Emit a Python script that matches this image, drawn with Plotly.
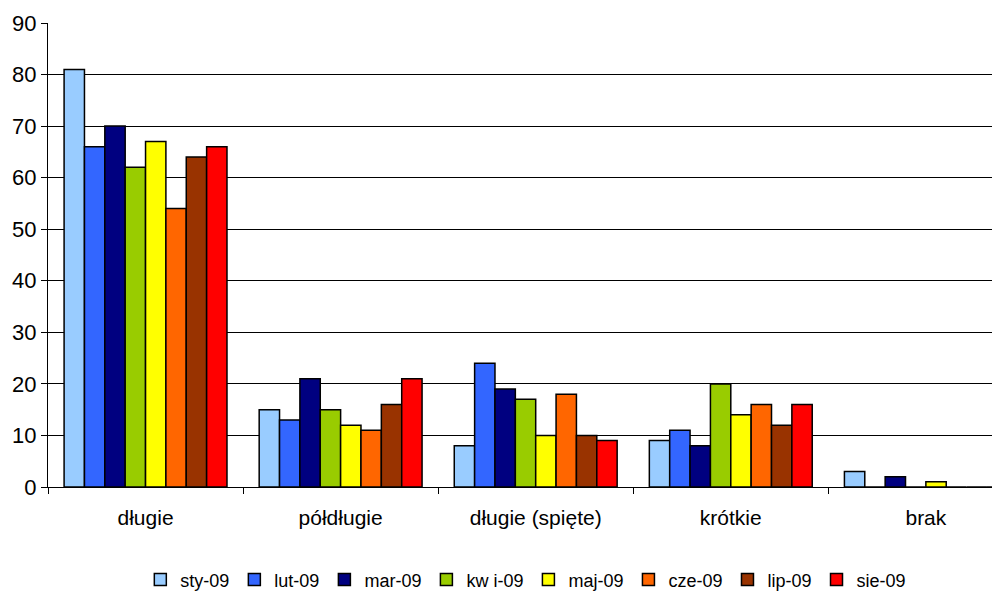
import plotly.graph_objects as go

categories = ["długie", "półdługie", "długie (spięte)", "krótkie", "brak"]
series_names = ["sty-09", "lut-09", "mar-09", "kw i-09", "maj-09", "cze-09", "lip-09", "sie-09"]
sty = [81, 15, 8, 9, 3]
lut = [66, 13, 24, 11, 0]
mar = [70, 21, 19, 8, 2]
kwi = [62, 15, 17, 20, 0]
maj = [67, 12, 10, 14, 1]
cze = [54, 11, 18, 16, 0]
lip = [64, 16, 10, 12, 0]
sie = [66, 21, 9, 16, 0]
series_values = [sty, lut, mar, kwi, maj, cze, lip, sie]
colors = ["#99CCFF", "#3366FF", "#000080", "#99CC00", "#FFFF00", "#FF6600", "#993300", "#FF0000"]
y_ticks = [0, 10, 20, 30, 40, 50, 60, 70, 80, 90]

FONT = "Arial, Liberation Sans, sans-serif"

fig = go.Figure()
for name, vals, col in zip(series_names, series_values, colors):
    fig.add_trace(go.Bar(
        x=categories, y=vals, name=name,
        marker=dict(color=col, line=dict(color="black", width=1.5)),
    ))

# page body has an 8px margin, so the figure is 992x583 placed at (8, 8)
fig.update_layout(
    width=992, height=583,
    barmode="group", bargap=0.165, bargroupgap=0,
    plot_bgcolor="white", paper_bgcolor="white",
    margin=dict(l=40, r=0, t=15, b=104),
    font=dict(family=FONT, size=21, color="black"),
    showlegend=True,
    legend=dict(orientation="h", xref="container", x=0.522, xanchor="center",
                yref="container", y=0.019, yanchor="middle",
                font=dict(size=18), itemwidth=30),
)
fig.update_xaxes(
    range=[-0.5, 4.38], showline=True, linecolor="black", linewidth=1, automargin=False,
    ticks="outside", tickson="boundaries", ticklen=6, tickcolor="black",
    tickfont=dict(size=21), showgrid=False, ticklabelstandoff=12,
)
fig.update_yaxes(
    range=[0, 90], tickvals=y_ticks, showline=True, linecolor="black", linewidth=1, automargin=False,
    ticks="outside", ticklen=6, tickcolor="black", showgrid=True, gridcolor="black", gridwidth=1,
    tickfont=dict(size=22), zeroline=False,
)
fig.write_html("out.html")
